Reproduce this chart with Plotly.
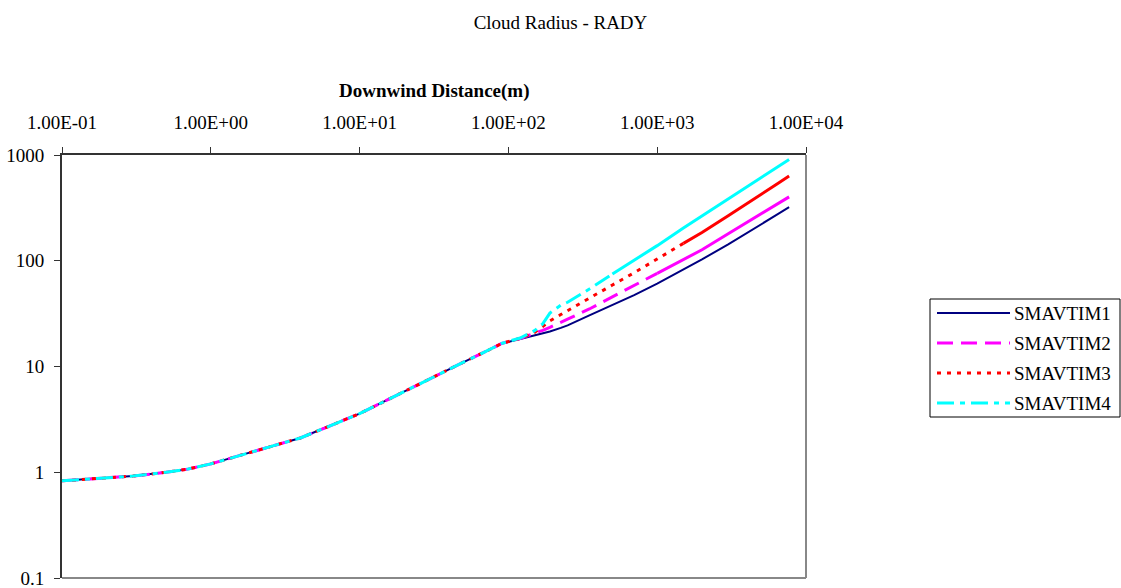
import plotly.graph_objects as go

# Downwind distance (m) at which the cloud radius was reported
distance = [0.1, 0.2, 0.3, 0.5, 0.7, 1, 1.5, 2, 3, 4, 5, 7, 10, 15, 20, 30, 40, 50, 70, 90,
            120, 150, 170, 190, 225, 250, 350, 500, 700, 1000, 1500, 2000, 3000, 4000, 5000,
            6500, 7700]

# Cloud radius RADY (m) for each averaging-time case
smavtim1 = [0.83, 0.88, 0.92, 1.0, 1.07, 1.2, 1.41, 1.58, 1.87, 2.11, 2.4, 2.92, 3.58, 4.75,
            5.82, 7.7, 9.4, 11.0, 13.8, 16.5,
            18.2, 19.6, 20.5, 21.4, 23.2, 24.5, 30.5, 38.0, 47.4, 60.8, 82, 103, 143, 182,
            221, 277, 322]
smavtim2 = [0.83, 0.88, 0.92, 1.0, 1.07, 1.2, 1.41, 1.58, 1.87, 2.11, 2.4, 2.92, 3.58, 4.75,
            5.82, 7.7, 9.4, 11.0, 13.8, 16.5,
            18.4, 20.5, 22.0, 23.5, 26.0, 28.0, 35.0, 45.5, 58, 76, 102, 127, 180, 230,
            278, 348, 402]
smavtim3 = [0.83, 0.88, 0.92, 1.0, 1.07, 1.2, 1.41, 1.58, 1.87, 2.11, 2.4, 2.92, 3.58, 4.75,
            5.82, 7.7, 9.4, 11.0, 13.8, 16.5,
            18.5, 21.0, 23.9, 27.0, 31.0, 33.8, 44.0, 59, 77, 104, 146, 185, 267, 345,
            423, 540, 632]
smavtim4 = [0.83, 0.88, 0.92, 1.0, 1.07, 1.2, 1.41, 1.58, 1.87, 2.11, 2.4, 2.92, 3.58, 4.75,
            5.82, 7.7, 9.4, 11.0, 13.8, 16.5,
            18.6, 21.8, 25.3, 32.0, 38.0, 40.5, 54.0, 75, 101, 139, 204, 265, 385, 501,
            615, 783, 908]

x_tickvals = [0.1, 1, 10, 100, 1000, 10000]
x_ticktext = ["1.00E-01", "1.00E+00", "1.00E+01", "1.00E+02", "1.00E+03", "1.00E+04"]
y_tickvals = [0.1, 1, 10, 100, 1000]
y_ticktext = ["0.1", "1", "10", "100", "1000"]

names = ["SMAVTIM1", "SMAVTIM2", "SMAVTIM3", "SMAVTIM4"]
values = [smavtim1, smavtim2, smavtim3, smavtim4]
colors = ["#000080", "#FF00FF", "#FF0000", "#00FFFF"]
widths = [2, 3, 3, 3]
dashes = ["solid", "16px,8px", "4px,6px", "17px,6px,5px,6px"]
# distance beyond which the densely sampled tail is drawn as a continuous stroke
solid_from = [None, 1000, 1500, 500]

FONT = "Liberation Serif, Times New Roman, serif"

fig = go.Figure()
for name, ys, col, w, d, cut in zip(names, values, colors, widths, dashes, solid_from):
    if cut is None:
        fig.add_trace(go.Scatter(x=distance, y=ys, mode="lines", name=name,
                                 line=dict(color=col, width=w, dash=d), showlegend=False))
        continue
    k = distance.index(cut)
    fig.add_trace(go.Scatter(x=distance[:k + 1], y=ys[:k + 1], mode="lines", name=name,
                             line=dict(color=col, width=w, dash=d), showlegend=False))
    fig.add_trace(go.Scatter(x=distance[k:], y=ys[k:], mode="lines", name=name,
                             line=dict(color=col, width=w, dash="solid"), showlegend=False))

# plot-area geometry in pixels, used to place the legend box
L, R, T, B = 62, 806, 155, 578
W, H = R - L, B - T


def px(xp):
    return (xp - L) / W


def py(yp):
    return (B - yp) / H


shapes = [
    # plot frame (right and bottom edges show grey)
    dict(type="line", xref="paper", yref="paper", x0=1, x1=1, y0=0, y1=1,
         line=dict(color="#888888", width=2)),
    dict(type="line", xref="paper", yref="paper", x0=0, x1=1, y0=0, y1=0,
         line=dict(color="#888888", width=2)),
    # legend box
    dict(type="rect", xref="paper", yref="paper", x0=px(930), x1=px(1120), y0=py(417), y1=py(299),
         line=dict(color="#000000", width=1), fillcolor="white"),
]
annotations = []
for i, (name, col, w, d) in enumerate(zip(names, colors, widths, dashes)):
    yy = 313 + 30 * i
    shapes.append(dict(type="line", xref="paper", yref="paper", x0=px(937), x1=px(1010),
                       y0=py(yy), y1=py(yy), line=dict(color=col, width=w, dash=d)))
    annotations.append(dict(text=name, xref="paper", yref="paper", x=px(1012), y=py(yy),
                            xanchor="left", yanchor="middle", showarrow=False,
                            font=dict(family=FONT, size=19, color="black")))

annotations.append(dict(text="<b>Downwind Distance(m)</b>", xref="paper", yref="paper",
                        x=0.5, y=py(91), xanchor="center", yanchor="middle", showarrow=False,
                        font=dict(family=FONT, size=19, color="black")))

fig.update_layout(
    width=1121, height=588,
    margin=dict(l=L, r=1121 - R, t=T, b=588 - B, autoexpand=False),
    paper_bgcolor="white", plot_bgcolor="white",
    font=dict(family=FONT, size=19, color="black"),
    title=dict(text="Cloud Radius - RADY", x=0.5, xref="container", xanchor="center",
               y=1 - 22 / 588, yref="container", yanchor="middle",
               font=dict(family=FONT, size=19, color="black")),
    showlegend=False,
    shapes=shapes,
    annotations=annotations,
    xaxis=dict(type="log", range=[-1, 4], side="top", showgrid=False, zeroline=False,
               showline=True, linecolor="#333333", linewidth=2, automargin=False,
               ticks="outside", ticklen=6, tickwidth=1, tickcolor="#333333",
               tickvals=x_tickvals, ticktext=x_ticktext, ticklabelstandoff=10,
               ticklabeloverflow="allow",
               tickfont=dict(family=FONT, size=19, color="black")),
    yaxis=dict(type="log", range=[-1, 3], showgrid=False, zeroline=False,
               showline=True, linecolor="#333333", linewidth=2, automargin=False,
               ticks="outside", ticklen=6, tickwidth=1, tickcolor="#333333",
               tickvals=y_tickvals, ticktext=y_ticktext, ticklabelstandoff=6,
               ticklabeloverflow="allow",
               tickfont=dict(family=FONT, size=19, color="black")),
)

fig.write_html("out.html")
